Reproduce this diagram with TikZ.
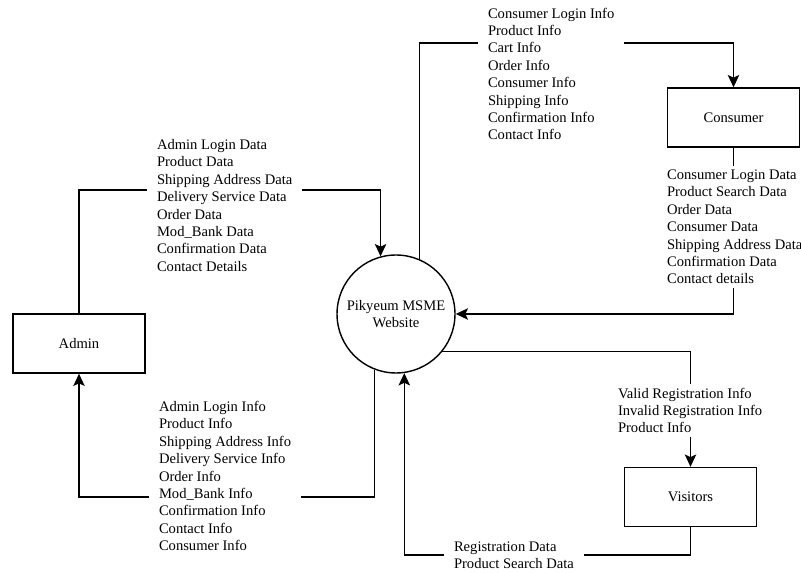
\documentclass[tikz,border=0pt]{standalone}
\usepackage{fontspec}
\setmainfont{Liberation Serif}
\usetikzlibrary{arrows.meta}

\begin{document}
\begin{tikzpicture}[x=0.02cm,y=-0.02cm,font=\fontsize{8.3}{9.9}\selectfont,
  entity/.style={rectangle,draw,line width=0.8pt,minimum width=2.64cm,minimum height=1.18cm},
  process/.style={circle,draw,line width=0.8pt,minimum size=2.36cm,align=center},
  flow/.style={line width=0.8pt,-{Stealth[length=7pt,width=6.5pt,inset=1.5pt]}},
  flowlabel/.style={fill=white,align=left,anchor=west,inner xsep=5.5pt,inner ysep=2pt}]
\useasboundingbox (0,0) rectangle (801,573);
\node[process] (website) at (396,314) {Pikyeum MSME\\Website};
\node[entity] (admin) at (79,343.5) {Admin};
\node[entity] (consumer) at (733.5,117.5) {Consumer};
\node[entity] (visitors) at (690.5,497) {Visitors};
% data flows
\draw[flow] (admin.north) |- (website.105 |- 0,190) -- (website.105);
\draw[flow] (website.67) |- (consumer.north |- 0,43) -- (consumer.north);
\draw[flow] (consumer.south) |- (website.east);
\draw[flow] (website.249) |- (admin.south |- 0,497) -- (admin.south);
\draw[flow] (website.-39) -| (visitors.north);
\draw[flow] (visitors.south) |- (website.278 |- 0,555) -- (website.278);
% flow labels
\node[flowlabel] (admindata) at (147,205.5) {Admin Login Data\\Product Data\\Shipping Address Data\\Delivery Service Data\\Order Data\\Mod\_Bank Data\\Confirmation Data\\Contact Details};
\node[flowlabel] (consumerinfo) at (478,74) {Consumer Login Info\\Product Info\\Cart Info\\Order Info\\Consumer Info\\Shipping Info\\Confirmation Info\\Contact Info};
\node[flowlabel] (consumerdata) at (657,227) {Consumer Login Data\\Product Search Data\\Order Data\\Consumer Data\\Shipping Address Data\\Confirmation Data\\Contact details};
\node[flowlabel] (admininfo) at (149,476) {Admin Login Info\\Product Info\\Shipping Address Info\\Delivery Service Info\\Order Info\\Mod\_Bank Info\\Confirmation Info\\Contact Info\\Consumer Info};
\node[flowlabel] (visitorinfo) at (608,410.5) {Valid Registration Info\\Invalid Registration Info\\Product Info};
\node[flowlabel] (visitordata) at (444,555) {Registration Data\\Product Search Data};
\end{tikzpicture}
\end{document}
